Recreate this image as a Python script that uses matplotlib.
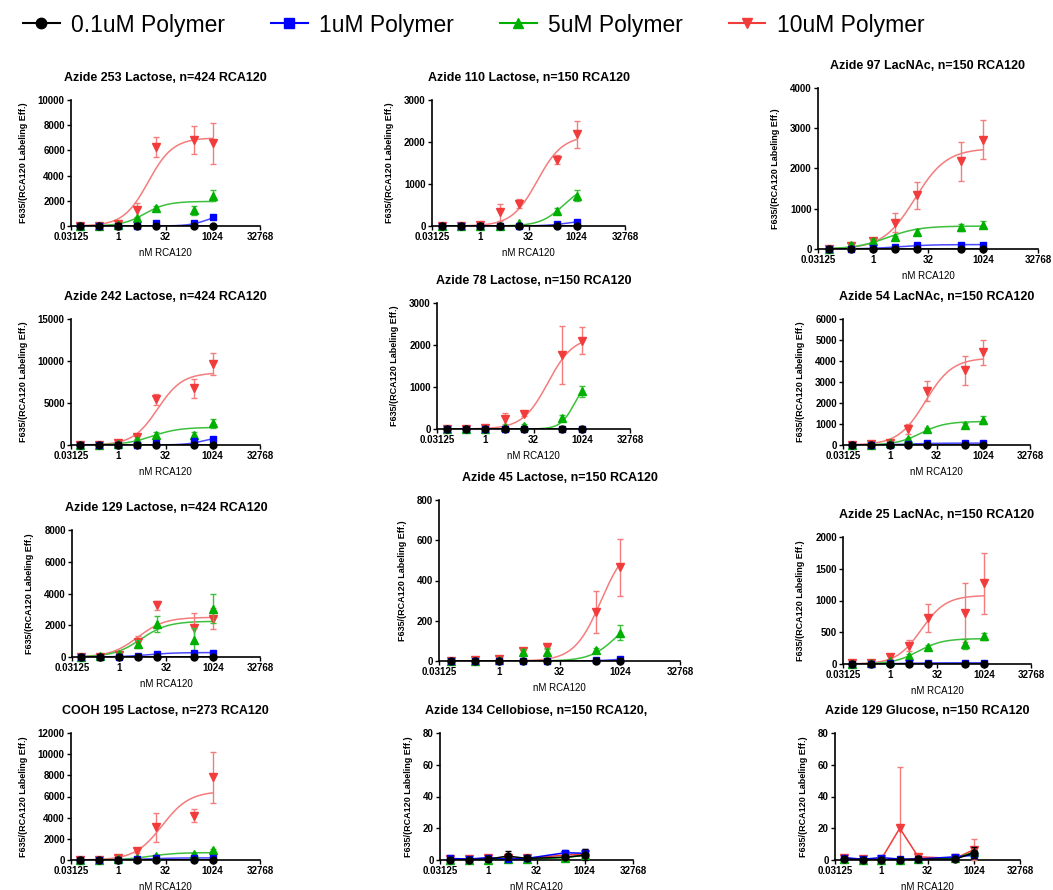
import matplotlib

matplotlib.use("Agg")
import matplotlib.pyplot as plt
from matplotlib.lines import Line2D
import numpy as np

plt.rcParams["font.family"] = ["Liberation Sans", "DejaVu Sans"]

# RCA120 concentrations (nM), 4-fold dilution series
CONC = [0.0625, 0.25, 1, 4, 16, 256, 1024]

SERIES = ["0.1uM Polymer", "1uM Polymer", "5uM Polymer", "10uM Polymer"]
MARKERS = ["o", "s", "^", "v"]
COLORS = ["#000000", "#0000FF", "#00B000", "#F23C3C"]
CURVE_COLORS = ["#000000", "#4A4AFF", "#3CC03C", "#F47C7C"]

TITLES = [
    "Azide 253 Lactose, n=424 RCA120",
    "Azide 110 Lactose, n=150 RCA120",
    "Azide 97 LacNAc, n=150 RCA120",
    "Azide 242 Lactose, n=424 RCA120",
    "Azide 78 Lactose, n=150 RCA120",
    "Azide 54 LacNAc, n=150 RCA120",
    "Azide 129 Lactose, n=424 RCA120",
    "Azide 45 Lactose, n=150 RCA120",
    "Azide 25 LacNAc, n=150 RCA120",
    "COOH 195 Lactose, n=273 RCA120",
    "Azide 134 Cellobiose, n=150 RCA120,",
    "Azide 129 Glucose, n=150 RCA120",
]
YMAX = [10000, 3000, 4000, 15000, 3000, 6000, 8000, 800, 2000, 12000, 80, 80]
YSTEP = [2000, 1000, 1000, 5000, 1000, 1000, 2000, 200, 500, 2000, 20, 20]

# mean / SD per series (0.1, 1, 5, 10 uM), fit = (bottom, top, EC50, hill)
az253_mean = [[0, 0, 0, 0, 0, 0, 0],
              [0, 0, 0, 0, 200, 230, 680],
              [0, 0, 80, 600, 1450, 1250, 2400],
              [0, 30, 150, 1250, 6300, 6800, 6550]]
az253_sd = [[0, 0, 0, 0, 0, 0, 0],
            [0, 0, 0, 0, 80, 60, 100],
            [0, 0, 40, 150, 120, 350, 450],
            [0, 20, 80, 600, 800, 1100, 1600]]
az253_fit = [(0, 0, 1, 1), (0, 1000, 700, 1.5), (0, 1950, 7, 1.2), (0, 7000, 9, 1.1)]

az110_mean = [[0, 0, 0, 0, 0, 0, 10],
              [0, 0, 0, 0, 10, 40, 90],
              [0, 0, 0, 10, 60, 360, 720],
              [0, 0, 30, 330, 530, 1580, 2180]]
az110_sd = [[0, 0, 0, 0, 0, 0, 0],
            [0, 0, 0, 0, 0, 20, 30],
            [0, 0, 0, 0, 20, 60, 130],
            [0, 0, 30, 200, 110, 100, 320]]
az110_fit = [(0, 10, 500, 1), (0, 150, 600, 1.2), (0, 1000, 400, 1.2), (0, 2150, 60, 1.1)]

az97_mean = [[0, 0, 0, 0, 0, 0, 0],
             [0, 10, 20, 40, 90, 100, 110],
             [0, 100, 200, 290, 430, 540, 600],
             [10, 80, 200, 650, 1330, 2180, 2720]]
az97_sd = [[0, 0, 0, 0, 0, 0, 0],
           [0, 5, 5, 10, 20, 20, 20],
           [0, 30, 40, 40, 60, 90, 90],
           [10, 40, 50, 240, 330, 480, 490]]
az97_fit = [(0, 0, 1, 1), (0, 110, 5, 1), (0, 570, 2.5, 1), (0, 2500, 14, 1)]

az242_mean = [[0, 0, 0, 0, 0, 0, 0],
              [0, 0, 0, 0, 250, 420, 750],
              [0, 0, 100, 600, 1250, 1250, 2600],
              [0, 50, 200, 1000, 5450, 6750, 9600]]
az242_sd = [[0, 0, 0, 0, 0, 0, 0],
            [0, 0, 0, 0, 80, 100, 150],
            [0, 0, 50, 150, 350, 350, 550],
            [0, 30, 100, 300, 650, 1150, 1300]]
az242_fit = [(0, 0, 1, 1), (0, 1100, 600, 1.4), (0, 2100, 12, 1), (0, 8600, 18, 1.1)]

az78_mean = [[0, 0, 0, 0, 0, 0, 0],
             [10, 10, 10, 10, 10, 10, 10],
             [0, 0, 0, 50, 80, 260, 900],
             [0, 0, 30, 250, 350, 1760, 2100]]
az78_sd = [[0, 0, 0, 0, 0, 0, 0],
           [0, 0, 0, 0, 0, 0, 0],
           [0, 0, 0, 30, 40, 80, 130],
           [0, 0, 30, 120, 40, 700, 320]]
az78_fit = [(0, 0, 1, 1), (10, 10, 1, 1), (0, 1200, 600, 2), (0, 2200, 90, 1.1)]

az54_mean = [[0, 0, 0, 0, 0, 0, 0],
             [0, 20, 20, 50, 80, 90, 90],
             [0, 20, 100, 280, 750, 960, 1180],
             [0, 50, 100, 760, 2570, 3560, 4420]]
az54_sd = [[0, 0, 0, 0, 0, 0, 0],
           [0, 10, 10, 20, 30, 30, 30],
           [0, 10, 30, 60, 60, 80, 190],
           [0, 30, 50, 220, 480, 680, 600]]
az54_fit = [(0, 0, 1, 1), (0, 90, 4, 1), (0, 1120, 10, 1.1), (0, 4150, 14, 1)]

az129lac_mean = [[0, 0, 0, 10, 10, 10, 10],
                 [0, 0, 20, 80, 180, 230, 280],
                 [0, 50, 200, 850, 2100, 1100, 3050],
                 [0, 30, 100, 950, 3250, 1850, 2420]]
az129lac_sd = [[0, 0, 0, 0, 0, 0, 0],
               [0, 0, 10, 30, 40, 50, 60],
               [0, 30, 80, 250, 500, 700, 900],
               [0, 20, 60, 400, 300, 900, 650]]
az129lac_fit = [(0, 10, 2, 1), (0, 280, 8, 1), (0, 2250, 5, 1), (0, 2500, 4, 1)]

az45_mean = [[0, 0, 0, 0, 0, 0, 0],
             [0, 0, 0, 0, 0, 3, 8],
             [0, 0, 5, 45, 45, 55, 140],
             [0, 5, 10, 50, 70, 245, 465]]
az45_sd = [[0, 0, 0, 0, 0, 0, 0],
           [0, 0, 0, 0, 0, 2, 4],
           [0, 0, 3, 15, 18, 8, 38],
           [0, 5, 8, 10, 10, 105, 140]]
az45_fit = [(0, 0, 1, 1), (0, 30, 2000, 1.3), (0, 250, 900, 1.3), (0, 600, 350, 1.3)]

az25_mean = [[0, 0, 0, 0, 0, 0, 0],
             [0, 0, 10, 10, 20, 20, 20],
             [0, 10, 50, 120, 270, 310, 440],
             [10, 20, 110, 290, 730, 810, 1270]]
az25_sd = [[0, 0, 0, 0, 0, 0, 0],
           [0, 0, 5, 5, 10, 10, 10],
           [0, 5, 20, 30, 30, 80, 55],
           [10, 20, 30, 90, 220, 470, 480]]
az25_fit = [(0, 0, 1, 1), (0, 20, 3, 1), (0, 400, 8, 1.1), (0, 1080, 10, 1.1)]

cooh195_mean = [[0, 0, 0, 0, 20, 20, 20],
                [0, 0, 30, 50, 150, 200, 200],
                [0, 0, 50, 150, 400, 600, 900],
                [0, 30, 150, 820, 3100, 4200, 7800]]
cooh195_sd = [[0, 0, 0, 0, 0, 0, 0],
              [0, 0, 20, 20, 50, 60, 60],
              [0, 0, 20, 40, 80, 100, 150],
              [0, 20, 80, 200, 1380, 650, 2400]]
cooh195_fit = [(0, 20, 10, 1), (0, 200, 8, 1), (0, 700, 10, 1), (0, 6500, 25, 1)]

# no fit for the negative-control sugars: points are joined directly
az134_mean = [[0.2, 0.2, 0.5, 2.5, 1.0, 1.8, 3.0],
              [1.0, 0.6, 1.5, 0.5, 1.0, 4.6, 4.2],
              [0.0, 0.2, 0.0, 0.5, 0.5, 1.5, 3.0],
              [0.5, 0.5, 1.0, 1.2, 1.0, 3.2, 3.6]]
az134_sd = [[0.2, 0.2, 0.3, 3.2, 0.8, 1.0, 4.0],
            [0.3, 0.3, 0.5, 0.3, 0.5, 1.5, 2.5],
            [0.0, 0.0, 0.0, 0.2, 0.2, 0.5, 0.8],
            [0.2, 0.2, 0.3, 0.5, 0.3, 1.0, 1.5]]

az129glc_mean = [[0.5, 0.3, 0.2, 0.2, 0.5, 0.5, 4.6],
                 [1.5, 0.5, 1.5, 0.6, 0.6, 2.0, 3.0],
                 [0.5, 0.1, 0.1, 0.1, 0.5, 1.0, 5.0],
                 [1.0, 0.5, 0.5, 20.0, 2.0, 1.0, 6.5]]
az129glc_sd = [[0.2, 0.1, 0.1, 0.1, 0.2, 0.3, 3.5],
               [0.5, 0.2, 0.5, 0.3, 0.3, 0.6, 1.2],
               [0.1, 0.1, 0.1, 0.1, 0.2, 0.3, 1.5],
               [0.3, 0.2, 0.2, 38.5, 1.0, 0.5, 7.0]]

MEANS = [az253_mean, az110_mean, az97_mean, az242_mean, az78_mean, az54_mean,
         az129lac_mean, az45_mean, az25_mean, cooh195_mean, az134_mean, az129glc_mean]
SDS = [az253_sd, az110_sd, az97_sd, az242_sd, az78_sd, az54_sd,
       az129lac_sd, az45_sd, az25_sd, cooh195_sd, az134_sd, az129glc_sd]
FITS = [az253_fit, az110_fit, az97_fit, az242_fit, az78_fit, az54_fit,
        az129lac_fit, az45_fit, az25_fit, cooh195_fit, None, None]

# axes boxes in pixels: left, top, right, bottom
BOXES = [
    (71, 100, 260, 226), (432, 100, 625, 226), (818, 88, 1038, 249),
    (71, 319, 260, 445), (437, 303, 630, 429), (843, 319, 1030, 445),
    (72, 530, 260, 657), (439, 500, 680, 661), (843, 537, 1031, 664),
    (71, 733, 260, 860), (440, 733, 633, 860), (835, 733, 1020, 860),
]

W, H = 1053, 890


def four_pl(x, bottom, top, ec50, hill):
    return bottom + (top - bottom) / (1 + (ec50 / x) ** hill)


fig = plt.figure(figsize=(W / 100, H / 100), dpi=100)
xfit = np.geomspace(CONC[0], CONC[-1], 200)

for i, (l, t, r, b) in enumerate(BOXES):
    ax = fig.add_axes([l / W, 1 - b / H, (r - l) / W, (b - t) / H])
    x = np.array(CONC)
    for k in [3, 2, 1, 0]:
        mean = np.array(MEANS[i][k])
        sd = np.array(SDS[i][k])
        # lower whisker stops at the x axis
        yerr = [np.minimum(sd, mean), sd]
        if FITS[i] is not None:
            ax.plot(xfit, four_pl(xfit, *FITS[i][k]), color=CURVE_COLORS[k],
                    lw=1.1, zorder=2)
        else:
            ax.plot(x, mean, color=COLORS[k], lw=1.1, zorder=2)
        ax.errorbar(x, mean, yerr=yerr, fmt=MARKERS[k], color=COLORS[k],
                    ecolor=CURVE_COLORS[k], elinewidth=1.0, capsize=2.5,
                    capthick=1.0, markersize=5 if k < 2 else 5.5, zorder=3 + (3 - k),
                    clip_on=False)

    ax.set_xscale("log", base=2)
    ax.set_xlim(2 ** -5, 2 ** 15)
    ax.set_xticks([0.03125, 1, 32, 1024, 32768])
    ax.set_xticklabels(["0.03125", "1", "32", "1024", "32768"])
    ax.xaxis.set_minor_locator(matplotlib.ticker.NullLocator())
    ax.set_ylim(0, YMAX[i])
    ax.set_yticks(np.arange(0, YMAX[i] + 1, YSTEP[i]))

    for side in ["top", "right"]:
        ax.spines[side].set_visible(False)
    for side in ["left", "bottom"]:
        ax.spines[side].set_linewidth(1.2)
    ax.tick_params(direction="out", length=3, width=1, labelsize=7, pad=1.5)
    for lab in ax.get_xticklabels() + ax.get_yticklabels():
        lab.set_fontweight("bold")

    ax.set_title(TITLES[i], fontsize=9, fontweight="bold", pad=14)
    ax.set_ylabel("F635/(RCA120 Labeling Eff.)", fontsize=6.5, fontweight="bold",
                  labelpad=7)
    ax.set_xlabel("nM RCA120", fontsize=7, labelpad=4)

handles = [
    Line2D([], [], color=COLORS[k], marker=MARKERS[k], markersize=7.5, lw=1.5)
    for k in range(4)
]
fig.legend(handles, SERIES, loc="upper center", bbox_to_anchor=(0.45, 1.008),
           ncol=4, frameon=False, fontsize=16.5, handlelength=1.6,
           columnspacing=2.0, handletextpad=0.5)

fig.savefig("out.png", dpi=100)
plt.close(fig)
